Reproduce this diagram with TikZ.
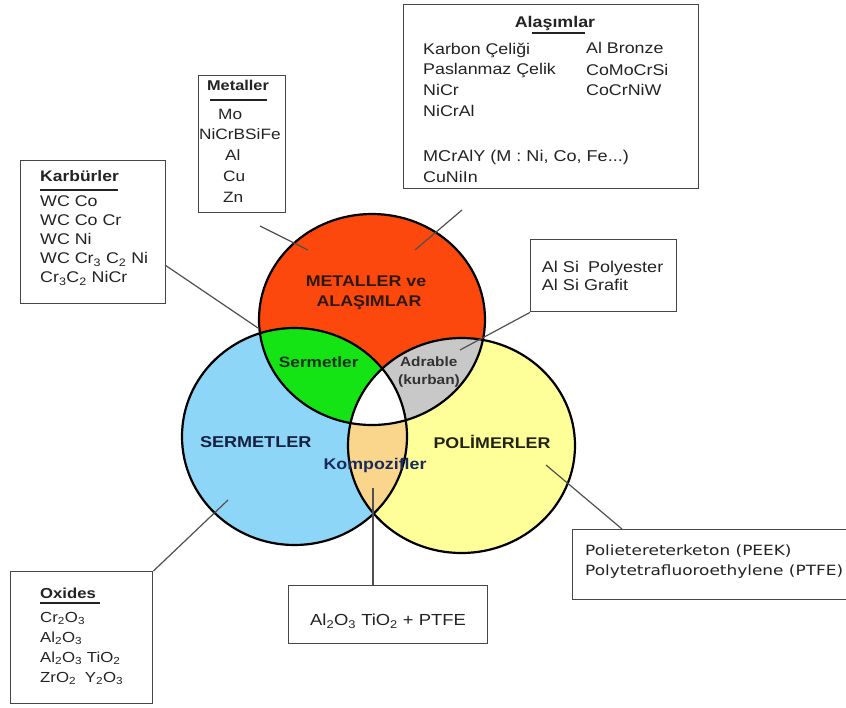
\documentclass[tikz,border=0pt]{standalone}
\usepackage{fontspec}
\setmainfont{Liberation Sans}
\newfontfamily\ar{Liberation Sans}
\newfontfamily\arw[FakeStretch=1.15]{Liberation Sans}
\newfontfamily\tah[FakeStretch=1.2]{DejaVu Sans}
\newcommand\fsz[1]{\fontsize{#1}{#1}\selectfont}
\definecolor{cred}{RGB}{252,72,12}
\definecolor{cblue}{RGB}{142,214,248}
\definecolor{cyel}{RGB}{255,255,153}
\definecolor{cgreen}{RGB}{20,228,20}
\definecolor{cgray}{RGB}{200,200,200}
\definecolor{corange}{RGB}{250,214,140}
\definecolor{boxgray}{RGB}{70,70,70}
\definecolor{conngray}{RGB}{80,80,80}
\definecolor{txtgray}{RGB}{35,35,35}
\tikzset{
  box/.style={draw=boxgray, line width=1.4pt, fill=white, anchor=north west, inner sep=0pt},
  conn/.style={draw=conngray, line width=1.2pt},
  txt/.style={anchor=base west, inner sep=0pt, text=txtgray},
  ctxt/.style={anchor=base, inner sep=0pt, text=txtgray},
  uline/.style={line width=2.2pt, draw=txtgray},
  lbl/.style={anchor=base, inner sep=0pt, font=\arw\bfseries\fsz{15.5}},
  outline/.style={draw=black, line width=2.2pt},
}
\begin{document}
\begin{tikzpicture}[x=1pt,y=-1pt]
\useasboundingbox (0,0) rectangle (846,707);
\fill[white] (0,0) rectangle (846,707);

% circles
\fill[cblue] (294.5,436.5) ellipse [x radius=112.5, y radius=108.5];
\fill[cyel] (461.5,445.5) ellipse [x radius=113.5, y radius=107.5];
\fill[cred] (372,319.5) ellipse [x radius=113, y radius=105.5];
\begin{scope}
  \clip (372,319.5) ellipse [x radius=113, y radius=105.5];
  \fill[cgreen] (294.5,436.5) ellipse [x radius=112.5, y radius=108.5];
  \fill[cgray] (461.5,445.5) ellipse [x radius=113.5, y radius=107.5];
\end{scope}
\begin{scope}
  \clip (294.5,436.5) ellipse [x radius=112.5, y radius=108.5];
  \fill[corange] (461.5,445.5) ellipse [x radius=113.5, y radius=107.5];
  \clip (372,319.5) ellipse [x radius=113, y radius=105.5];
  \fill[white] (461.5,445.5) ellipse [x radius=113.5, y radius=107.5];
\end{scope}
\draw[outline] (294.5,436.5) ellipse [x radius=112.5, y radius=108.5];
\draw[outline] (461.5,445.5) ellipse [x radius=113.5, y radius=107.5];
\draw[outline] (372,319.5) ellipse [x radius=113, y radius=105.5];

% boxes
\node[box, minimum width=295, minimum height=183.5] (alas) at (402.5,4) {};
\node[box, minimum width=87, minimum height=137] (met) at (198,75) {};
\node[box, minimum width=145, minimum height=143] (kar) at (20,160) {};
\node[box, minimum width=146, minimum height=72] (alsi) at (530,239) {};
\node[box, minimum width=142, minimum height=132] (oxb) at (10,571) {};
\node[box, minimum width=199, minimum height=58] (alt) at (288,585) {};
\node[box, minimum width=285, minimum height=70] (peek) at (572,529) {};

% connector end points
\coordinate (k1) at (165,265); \coordinate (k2) at (258,328);
\coordinate (m1) at (260,226); \coordinate (m2) at (308,250);
\coordinate (a1) at (462,210); \coordinate (a2) at (415,250);
\coordinate (s2) at (460,350);
\coordinate (o2) at (228,500);
\coordinate (t1) at (373,585); \coordinate (t2) at (373,488);
\coordinate (p1) at (622,529); \coordinate (p2) at (546,465);
\draw[conn] (k1) -- (k2);
\draw[conn] (m1) -- (m2);
\draw[conn] (a1) -- (a2);
\draw[conn] (alsi.south west) -- (s2);
\draw[conn] (oxb.north east) -- (o2);
\draw[conn] (t1) -- (t2);
\draw[conn] (p1) -- (p2);

% circle labels
\node[lbl, text={rgb,255:red,45;green,25;blue,15}] (l1) at (366,286.5) {METALLER ve};
\node[lbl, text={rgb,255:red,45;green,25;blue,15}] (l2) at (369,306.5) {ALAŞIMLAR};
\node[lbl, font=\arw\bfseries\fsz{15}, text={rgb,255:red,25;green,50;blue,25}] (l3) at (318.7,367) {Sermetler};
\node[lbl, font=\arw\bfseries\fsz{13.4}, text={rgb,255:red,50;green,50;blue,50}] (l4) at (428.7,366.5) {Adrable};
\node[lbl, font=\arw\bfseries\fsz{13.4}, text={rgb,255:red,50;green,50;blue,50}] (l5) at (429,384.8) {(kurban)};
\node[lbl, font=\arw\bfseries\fsz{15.7}, text={rgb,255:red,22;green,32;blue,64}] (l6) at (255.7,447.3) {SERMETLER};
\node[lbl, text={rgb,255:red,35;green,35;blue,20}] (l7) at (492,448) {POLİMERLER};
\node[lbl, text={rgb,255:red,26;green,42;blue,90}] (l8) at (375,469) {Kompozifler};

% Alasimlar box text
\node[ctxt, font=\arw\bfseries\fsz{15.5}] (at0) at (555,27) {Alaşımlar};
\draw[uline] (532,33) -- (585,33);
\node[txt, font=\arw\fsz{15.5}] (at1) at (423,54.5) {Karbon Çeliği};
\node[txt, font=\arw\fsz{15.5}] (at2) at (423,74.5) {Paslanmaz Çelik};
\node[txt, font=\arw\fsz{15.5}] (at3) at (423,95.5) {NiCr};
\node[txt, font=\arw\fsz{15.5}] (at4) at (423,116.5) {NiCrAl};
\node[txt, font=\arw\fsz{15.7}] (at5) at (423,161.5) {MCrAlY (M : Ni, Co, Fe...)};
\node[txt, font=\arw\fsz{15.5}] (at6) at (423,182.5) {CuNiIn};
\node[txt, font=\arw\fsz{15.5}] (at7) at (586,53.5) {Al Bronze};
\node[txt, font=\arw\fsz{15.5}] (at8) at (586,75) {CoMoCrSi};
\node[txt, font=\arw\fsz{15.5}] (at9) at (586,95.5) {CoCrNiW};

% Metaller box text
\node[ctxt, font=\arw\bfseries\fsz{14.2}] (mt0) at (238,90) {Metaller};
\draw[uline] (210,100) -- (267,100);
\node[txt, font=\arw\fsz{15}] (mt1) at (218,119) {Mo};
\node[txt, font=\arw\fsz{15}] (mt2) at (199,139.5) {NiCrBSiFe};
\node[txt, font=\arw\fsz{15}] (mt3) at (225,160.5) {Al};
\node[txt, font=\arw\fsz{15}] (mt4) at (223,181.5) {Cu};
\node[txt, font=\arw\fsz{15}] (mt5) at (223,202.5) {Zn};

% Karburler box text
\node[txt, font=\arw\bfseries\fsz{15.2}] (kt0) at (40,181) {Karbürler};
\draw[uline] (40,190) -- (118,190);
\node[txt, font=\arw\fsz{15.5}] (kt1) at (40,206.5) {WC Co};
\node[txt, font=\arw\fsz{15.5}] (kt2) at (40,225.5) {WC Co Cr};
\node[txt, font=\arw\fsz{15.5}] (kt3) at (40,244.5) {WC Ni};
\node[txt, font=\arw\fsz{15.5}] (kt4) at (40,263.5) {WC Cr\textsubscript{3} C\textsubscript{2} Ni};
\node[txt, font=\arw\fsz{15.5}] (kt5) at (40,282.5) {Cr\textsubscript{3}C\textsubscript{2} NiCr};

% AlSi box text
\node[txt, font=\arw\fsz{15.7}] (st1) at (541.7,272) {Al Si\hspace{4pt} Polyester};
\node[txt, font=\arw\fsz{15.7}] (st2) at (541.7,290.5) {Al Si Grafit};

% Oxides box text
\node[txt, font=\arw\bfseries\fsz{14.5}] (ot0) at (40,598) {Oxides};
\draw[uline] (40,603) -- (100,603);
\node[txt, font=\arw\fsz{14.6}] (ot1) at (40,622) {Cr\textsubscript{2}O\textsubscript{3}};
\node[txt, font=\arw\fsz{14.6}] (ot2) at (40,642) {Al\textsubscript{2}O\textsubscript{3}};
\node[txt, font=\arw\fsz{14.6}] (ot3) at (40,662) {Al\textsubscript{2}O\textsubscript{3} TiO\textsubscript{2}};
\node[txt, font=\arw\fsz{14.6}] (ot4) at (40,682) {ZrO\textsubscript{2}\hspace{4pt} Y\textsubscript{2}O\textsubscript{3}};

% Al2O3 box text
\node[ctxt, font=\arw\fsz{16}] (tt) at (388,625.5) {Al\textsubscript{2}O\textsubscript{3} TiO\textsubscript{2} + PTFE};

% PEEK box text
\node[txt, font=\tah\fsz{14.1}] (pt1) at (585,555) {Polietereterketon (PEEK)};
\node[txt, font=\tah\fsz{14.1}] (pt2) at (585,575) {Polytetrafluoroethylene (PTFE)};
\end{tikzpicture}
\end{document}
